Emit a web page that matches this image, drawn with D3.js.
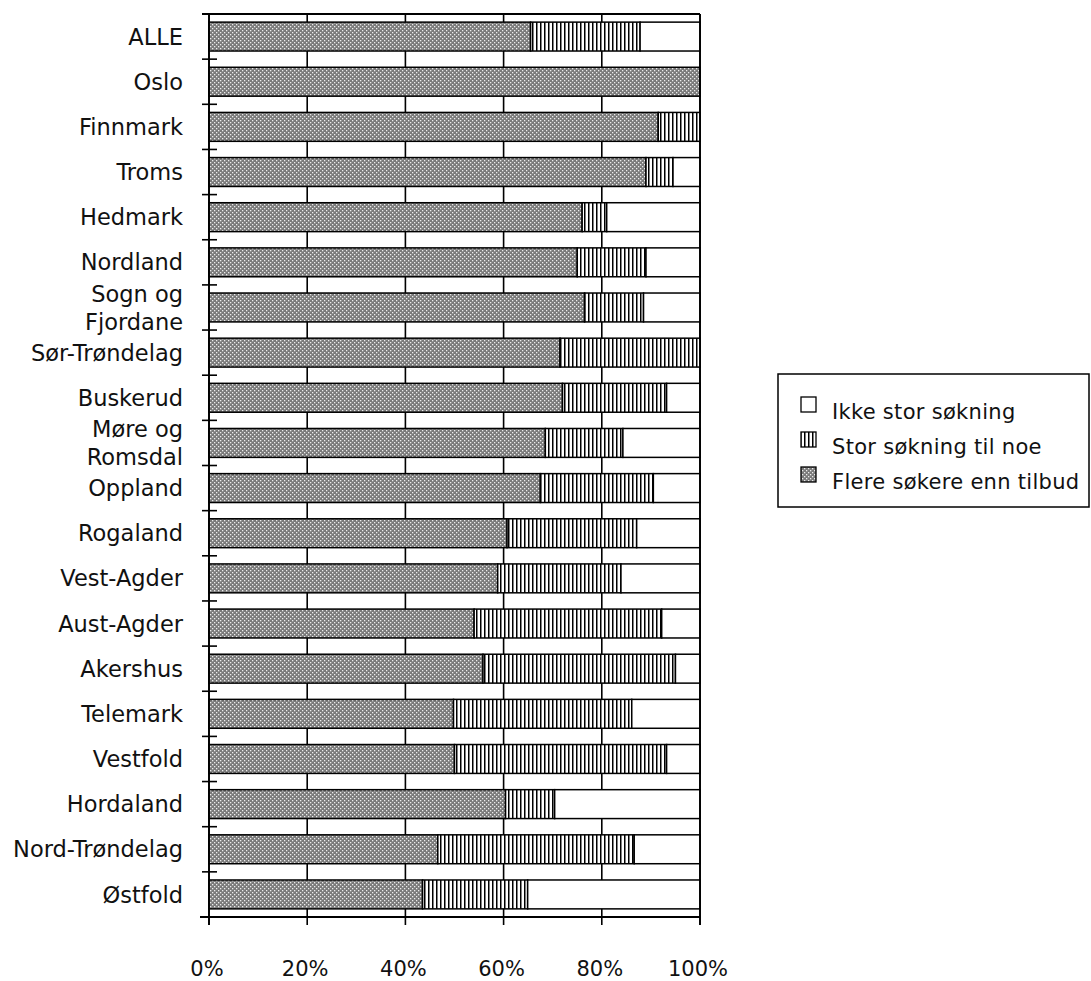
<!DOCTYPE html>
<html><head><meta charset="utf-8">
<script src="https://cdn.jsdelivr.net/npm/d3@7"></script>
<style>
html,body{margin:0;padding:0;background:#fff;}
svg{display:block;}
text{font-family:"DejaVu Sans",sans-serif;fill:#111;}
</style></head>
<body>
<script>
const categories = ["ALLE","Oslo","Finnmark","Troms","Hedmark","Nordland","Sogn og\nFjordane","Sør-Trøndelag","Buskerud","Møre og\nRomsdal","Oppland","Rogaland","Vest-Agder","Aust-Agder","Akershus","Telemark","Vestfold","Hordaland","Nord-Trøndelag","Østfold"];
const flereSokere = [65.5,100,91.5,89,76,75,76.5,71.5,72,68.5,67.5,60.7,58.8,54,55.8,49.8,50,60.4,46.6,43.5];
const storSokning = [22.3,0,8.5,5.5,5,14,12,28.5,21.2,15.8,23,26.4,25.1,38.2,39.2,36.3,43.2,10,40,21.4];
const ikkeStor = [12.2,0,0,5.5,19,11,11.5,0,6.8,15.7,9.5,12.9,16.1,7.8,5,13.9,6.8,29.6,13.4,35.1];
const seriesNames = ["Flere søkere enn tilbud","Stor søkning til noe","Ikke stor søkning"];
const legendOrder = ["Ikke stor søkning","Stor søkning til noe","Flere søkere enn tilbud"];
const xTicks = [0,20,40,60,80,100];

(function(){
const W = 1091, H = 981;
const svg = d3.select("body").append("svg").attr("width",W).attr("height",H);
const defs = svg.append("defs");
const dots = defs.append("pattern").attr("id","dots").attr("patternUnits","userSpaceOnUse").attr("width",4).attr("height",4);
dots.append("rect").attr("width",4).attr("height",4).attr("fill","#7a7a7a");
dots.append("rect").attr("x",0).attr("y",0).attr("width",1.3).attr("height",1.3).attr("fill","#ececec");
dots.append("rect").attr("x",2).attr("y",2).attr("width",1.3).attr("height",1.3).attr("fill","#ececec");
const stripes = defs.append("pattern").attr("id","stripes").attr("patternUnits","userSpaceOnUse").attr("width",4).attr("height",4);
stripes.append("rect").attr("width",4).attr("height",4).attr("fill","#fff");
stripes.append("rect").attr("x",0).attr("width",1.5).attr("height",4).attr("fill","#000");
const fills = {"Flere søkere enn tilbud":"url(#dots)","Stor søkning til noe":"url(#stripes)","Ikke stor søkning":"#fff"};

const pL = 209, pR = 700, pT = 14, pB = 917;
const x = d3.scaleLinear().domain([0,100]).range([pL,pR]);
const y = d3.scaleBand().domain(categories).range([pT,pB]).paddingInner(0.36).paddingOuter(0.18);

const rows = categories.map((c,i)=>({cat:c,"Flere søkere enn tilbud":flereSokere[i],"Stor søkning til noe":storSokning[i],"Ikke stor søkning":ikkeStor[i]}));
const stacked = d3.stack().keys(seriesNames)(rows);

svg.append("g").selectAll("line").data(xTicks).join("line")
  .attr("x1",d=>x(d)).attr("x2",d=>x(d)).attr("y1",pT).attr("y2",pB+8)
  .attr("stroke","#000").attr("stroke-width",1.6);
svg.append("line").attr("x1",pL-7).attr("x2",pR).attr("y1",pT).attr("y2",pT).attr("stroke","#000").attr("stroke-width",1.8);
svg.append("line").attr("x1",pL-9).attr("x2",pR).attr("y1",pB).attr("y2",pB).attr("stroke","#000").attr("stroke-width",1.8);
const step = y.step();
const bounds = d3.range(1,categories.length).map(k=>pT + k*step);
svg.append("g").selectAll("line").data(bounds).join("line")
  .attr("x1",pL-7).attr("x2",pL+8).attr("y1",d=>d).attr("y2",d=>d)
  .attr("stroke","#000").attr("stroke-width",1.6);

stacked.forEach(s=>{
  svg.append("g").selectAll("rect").data(s.filter(d=>d[1]-d[0]>0)).join("rect")
    .attr("x",d=>x(d[0])).attr("width",d=>x(d[1])-x(d[0]))
    .attr("y",d=>y(d.data.cat)).attr("height",y.bandwidth())
    .attr("fill",fills[s.key]).attr("stroke","#000").attr("stroke-width",1.5);
});
svg.append("line").attr("x1",pL).attr("x2",pL).attr("y1",pT).attr("y2",pB+8).attr("stroke","#000").attr("stroke-width",1.8);
svg.append("line").attr("x1",pR).attr("x2",pR).attr("y1",pT).attr("y2",pB+8).attr("stroke","#000").attr("stroke-width",1.8);

const lab = svg.append("g").selectAll("text").data(categories).join("text")
  .attr("text-anchor","end").attr("font-size",22.5)
  .attr("transform",d=>`translate(${pL-26},${y(d)+y.bandwidth()/2})`);
lab.each(function(d){
  const lines = d.split("\n");
  const t = d3.select(this);
  lines.forEach((ln,i)=>{
    t.append("tspan").attr("x",0).attr("y",(i-(lines.length-1)/2)*28).attr("dy","0.36em").text(ln);
  });
});

svg.append("g").selectAll("text").data(xTicks).join("text")
  .attr("x",d=>x(d)-2).attr("y",968).attr("dy","0.36em").attr("text-anchor","middle").attr("font-size",21)
  .text(d=>d+"%");

const lg = svg.append("g");
lg.append("rect").attr("x",778).attr("y",374).attr("width",311).attr("height",133).attr("fill","#fff").attr("stroke","#000").attr("stroke-width",1.5);
legendOrder.forEach((k,i)=>{
  const cy = 411 + i*35;
  lg.append("rect").attr("x",801).attr("y",cy-14).attr("width",15).attr("height",15).attr("fill",fills[k]).attr("stroke","#000").attr("stroke-width",1.3);
  lg.append("text").attr("x",832).attr("y",cy).attr("dy","0.36em").attr("font-size",21).attr("letter-spacing",0.3).text(k);
});
})();
</script>
</body></html>
